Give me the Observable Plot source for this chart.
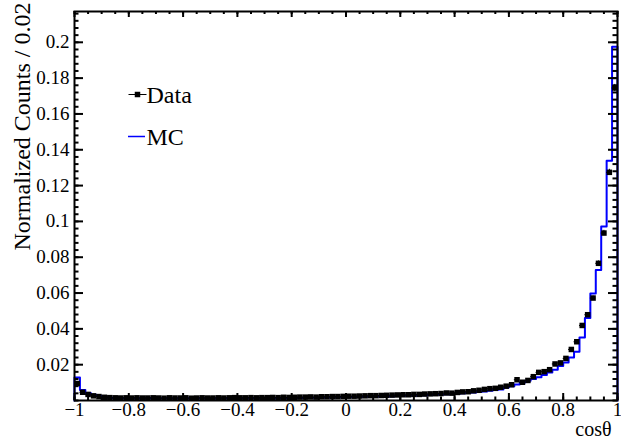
<!DOCTYPE html>
<html><head><meta charset="utf-8">
<script src="https://cdn.jsdelivr.net/npm/d3@7"></script>
<script src="https://cdn.jsdelivr.net/npm/@observablehq/plot@0.6"></script>
<style>
html,body{margin:0;padding:0;background:#fff;}
#chart svg{display:block;}
</style></head><body><div id="chart"></div>
<script>
// ---- data (bins of 0.02 from -1 to 1) ----
const binWidth = 0.02;
const nBins = 100;
const mcValues = [
0.0128,0.0058,0.0042,0.0032,0.0025,0.0020,0.0016,0.0014,0.0012,0.0013,
0.0012,0.0012,0.0011,0.0012,0.0012,0.0011,0.0012,0.0012,0.0011,0.0012,
0.0012,0.0011,0.0012,0.0012,0.0012,0.0011,0.0012,0.0012,0.0013,0.0012,
0.0012,0.0013,0.0013,0.0012,0.0013,0.0013,0.0014,0.0013,0.0014,0.0014,
0.0015,0.0014,0.0015,0.0016,0.0016,0.0016,0.0017,0.0017,0.0018,0.0018,
0.0019,0.0019,0.0020,0.0021,0.0021,0.0022,0.0023,0.0023,0.0024,0.0025,
0.0026,0.0026,0.0027,0.0029,0.0029,0.0031,0.0032,0.0033,0.0035,0.0036,
0.0038,0.0040,0.0043,0.0045,0.0047,0.0050,0.0054,0.0058,0.0062,0.0072,
0.0080,0.0090,0.0100,0.0110,0.0120,0.0130,0.0142,0.0156,0.0172,0.0192,
0.0212,0.0240,0.0272,0.0352,0.0461,0.0598,0.0729,0.0972,0.1338,0.1975];
const dataValues = [
0.0095,0.0046,0.0034,0.0026,0.0022,0.0018,0.0016,0.0015,0.0014,0.0015,
0.0014,0.0015,0.0014,0.0014,0.0015,0.0014,0.0013,0.0015,0.0014,0.0014,
0.0015,0.0013,0.0014,0.0015,0.0014,0.0014,0.0015,0.0014,0.0015,0.0016,
0.0015,0.0015,0.0016,0.0015,0.0016,0.0016,0.0017,0.0016,0.0018,0.0017,
0.0018,0.0019,0.0019,0.0020,0.0019,0.0021,0.0021,0.0022,0.0022,0.0023,
0.0024,0.0024,0.0025,0.0026,0.0027,0.0027,0.0028,0.0029,0.0030,0.0031,
0.0032,0.0032,0.0034,0.0034,0.0036,0.0037,0.0038,0.0039,0.0042,0.0041,
0.0045,0.0048,0.0049,0.0054,0.0057,0.0062,0.0066,0.0068,0.0074,0.0080,
0.0088,0.0116,0.0102,0.0112,0.0133,0.0157,0.0161,0.0172,0.0204,0.0210,
0.0235,0.0285,0.0328,0.0419,0.0479,0.0572,0.0766,0.0935,0.1274,0.1745];
const dataErrors = [
0.0005,0.0003,0.0003,0.0002,0.0002,0.0002,0.0002,0.0002,0.0002,0.0002,
0.0002,0.0002,0.0002,0.0002,0.0002,0.0002,0.0002,0.0002,0.0002,0.0002,
0.0002,0.0002,0.0002,0.0002,0.0002,0.0002,0.0002,0.0002,0.0002,0.0002,
0.0002,0.0002,0.0002,0.0002,0.0002,0.0002,0.0002,0.0002,0.0002,0.0002,
0.0002,0.0002,0.0002,0.0002,0.0002,0.0002,0.0002,0.0002,0.0002,0.0002,
0.0002,0.0002,0.0002,0.0002,0.0003,0.0003,0.0003,0.0003,0.0003,0.0003,
0.0003,0.0003,0.0003,0.0003,0.0003,0.0003,0.0003,0.0003,0.0003,0.0003,
0.0003,0.0003,0.0003,0.0004,0.0004,0.0004,0.0004,0.0004,0.0004,0.0004,
0.0004,0.0005,0.0005,0.0005,0.0005,0.0006,0.0006,0.0006,0.0007,0.0007,
0.0007,0.0008,0.0009,0.0010,0.0010,0.0011,0.0013,0.0015,0.0017,0.0020];
const xTickValues = [-1,-0.8,-0.6,-0.4,-0.2,0,0.2,0.4,0.6,0.8,1];
const yTickValues = [0.02,0.04,0.06,0.08,0.1,0.12,0.14,0.16,0.18,0.2];
const xMinorStep = 0.05;
const yMinorStep = 0.004;
const yTitle = "Normalized Counts / 0.02";
const xTitle = "cosθ";
const legendLabels = ["Data", "MC"];

// ---- derived tables ----
const lowEdges = d3.range(nBins).map(i => -1 + i * binWidth);
const dataTable = lowEdges.map((x0, i) => ({
  x0, x1: x0 + binWidth, c: x0 + binWidth / 2,
  v: dataValues[i], lo: dataValues[i] - dataErrors[i], hi: dataValues[i] + dataErrors[i]
}));
const mcPts = [{x: -1, y: 0}, ...lowEdges.map((x0, i) => ({x: x0, y: mcValues[i]})),
  {x: 1, y: mcValues[nBins - 1]}, {x: 1, y: 0}];
const xMinor = d3.range(0, 41).map(i => -1 + i * xMinorStep);
const yMinor = d3.range(0, 55).map(i => i * yMinorStep);

const W = 621, H = 440, mL = 74, mR = 4, mT = 11, mB = 40;
const pw = W - mL - mR, ph = H - mT - mB;
const fmt = d => d === 0 ? "0" : (d < 0 ? "\u2212" : "") + String(Math.abs(d));
const serif = "'Liberation Serif','Times New Roman',serif";
const hline = (half) => ({draw(ctx) { ctx.moveTo(-half, 0); ctx.lineTo(half, 0); }});

const chart = Plot.plot({
  width: W, height: H,
  marginLeft: mL, marginRight: mR, marginTop: mT, marginBottom: mB,
  x: {domain: [-1, 1], label: null},
  y: {domain: [0, 0.2172], label: null},
  style: {fontFamily: serif, fontSize: "19px", color: "#000", background: "#fff"},
  marks: [
    Plot.line(mcPts, {x: "x", y: "y", curve: "step-after", stroke: "#0000ff", strokeWidth: 2}),
    Plot.ruleX(dataTable, {x: "c", y1: "lo", y2: "hi", stroke: "#000", strokeWidth: 1}),
    Plot.ruleY(dataTable, {y: "v", x1: "x0", x2: "x1", stroke: "#000", strokeWidth: 1}),
    Plot.dot(dataTable, {x: "c", y: "v", symbol: "square", r: 3.1, fill: "#000", stroke: "none"}),
    // inside ticks (ROOT style) on all four sides
    Plot.ruleY(yTickValues, {insetRight: pw - 9, stroke: "#000", strokeWidth: 2}),
    Plot.ruleY(yMinor, {insetRight: pw - 4.5, stroke: "#000", strokeWidth: 2}),
    Plot.ruleY(yTickValues, {insetLeft: pw - 9, stroke: "#000", strokeWidth: 2}),
    Plot.ruleY(yMinor, {insetLeft: pw - 4.5, stroke: "#000", strokeWidth: 2}),
    Plot.ruleX(xTickValues, {insetTop: ph - 7, stroke: "#000", strokeWidth: 2}),
    Plot.ruleX(xMinor, {insetTop: ph - 3.5, stroke: "#000", strokeWidth: 2}),
    Plot.ruleX(xTickValues, {insetBottom: ph - 6, stroke: "#000", strokeWidth: 2}),
    Plot.ruleX(xMinor, {insetBottom: ph - 3, stroke: "#000", strokeWidth: 2}),
    Plot.frame({stroke: "#000", strokeWidth: 2}),
    Plot.axisY({ticks: yTickValues, tickSize: 0, tickPadding: 5, tickFormat: fmt, fontSize: 19, label: null}),
    Plot.axisX({ticks: xTickValues, tickSize: 0, tickPadding: 2, tickFormat: fmt, fontSize: 19, label: null}),
    Plot.text([yTitle], {frameAnchor: "top-left", rotate: -90, textAnchor: "end", lineAnchor: "middle", dx: -52, dy: -9, fontSize: 24, fill: "#000"}),
    Plot.text([xTitle], {frameAnchor: "bottom-right", textAnchor: "end", lineAnchor: "bottom", dx: -6, dy: 35, fontSize: 20, fill: "#000"}),
    // legend
    Plot.dot([legendLabels[0]], {frameAnchor: "top-left", dx: 63, dy: 83, symbol: hline(9), stroke: "#000", strokeWidth: 1}),
    Plot.dot([legendLabels[0]], {frameAnchor: "top-left", dx: 63, dy: 83, symbol: "square", r: 3.1, fill: "#000", stroke: "none"}),
    Plot.text([legendLabels[0]], {frameAnchor: "top-left", dx: 72, dy: 84, textAnchor: "start", lineAnchor: "middle", fontSize: 24, fill: "#000"}),
    Plot.dot([legendLabels[1]], {frameAnchor: "top-left", dx: 62, dy: 125, symbol: hline(8.5), stroke: "#0000ff", strokeWidth: 1.5}),
    Plot.text([legendLabels[1]], {frameAnchor: "top-left", dx: 72, dy: 126, textAnchor: "start", lineAnchor: "middle", fontSize: 24, fill: "#000"})
  ]
});
document.getElementById("chart").appendChild(chart);
</script>
</body></html>
